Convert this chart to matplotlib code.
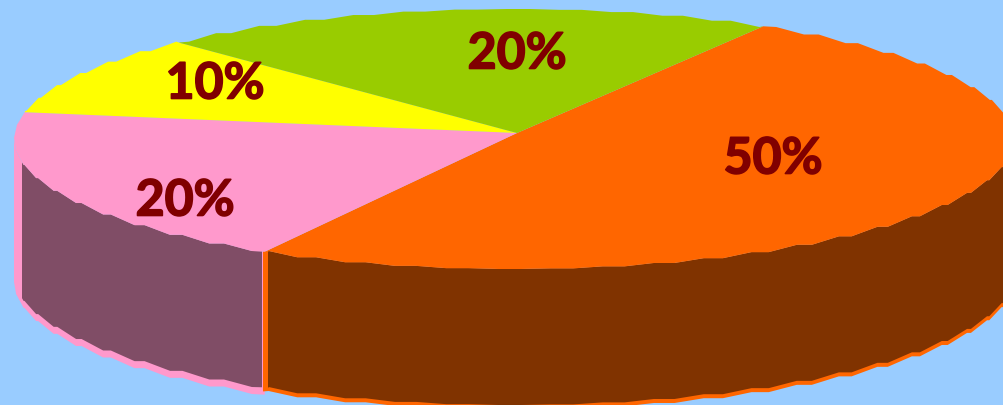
import numpy as np
import matplotlib
matplotlib.use('Agg')
import matplotlib.pyplot as plt
import matplotlib.patheffects as pe

# clockwise from the orange slice
labels = ['50%', '20%', '10%', '20%']
values = [50, 20, 10, 20]
colors = ['#FF6600', '#FF99CC', '#FFFF00', '#99CC00']
wall_colors = ['#803300', '#804D66']
label_x = [773, 185, 215, 517]
label_y = [160, 202, 85, 55]

# pie geometry in pixels
cx, cy, rx, ry = 514, 140, 500, 130
apex = (517, 134)
depth = 136
start = 60.1


def point(t):
    r = np.radians(t)
    return cx + rx * np.cos(r), cy - ry * np.sin(r)


def arc(t0, t1, step=6.0, flat=1.3):
    # rough outline of the ellipse from t0 down to t1, flat runs fade out at the sides
    xs, ys = [point(t0)[0]], [point(t0)[1]]
    for k in range(-8, 70):
        t = 59.5 - k * step
        y = point(t)[1]
        f = flat * abs(np.sin(np.radians(t)))
        for tt in (t + f, t - f):
            if t1 < tt < t0:
                xs.append(point(tt)[0])
                ys.append(y)
    xs.append(point(t1)[0])
    ys.append(point(t1)[1])
    return np.array(xs), np.array(ys)


def t_at_x(x):
    return -np.degrees(np.arccos((x - cx) / rx))


def wall(ax, t0, t1, color, shift):
    xs, ys = arc(t0, t1)
    ax.fill(np.r_[xs, xs[::-1]], np.r_[ys, ys[::-1] + shift], color=color, lw=0)


fig = plt.figure(figsize=(10.04, 4.06), dpi=100, facecolor='#99CCFF')
ax = fig.add_axes([0, 0, 1, 1])
ax.set_xlim(0, 1004)
ax.set_ylim(406, 0)
ax.axis('off')

angles = start - np.cumsum([0] + values) * 3.6

# side walls, light rim first and the dark face on top
wall(ax, angles[1], -180, colors[1], depth + 7)
wall(ax, t_at_x(262), t_at_x(22), wall_colors[1], depth)
wall(ax, 0, t_at_x(263), colors[0], depth + 4)
wall(ax, 0, t_at_x(268), wall_colors[0], depth)

# top slices
for i in range(len(values)):
    xs, ys = arc(angles[i], angles[i + 1])
    ax.fill(np.r_[apex[0], xs], np.r_[apex[1], ys], color=colors[i], lw=0)

for x, y, s in zip(label_x, label_y, labels):
    ax.text(x, y, s, color='#800000', fontsize=36, fontfamily='Lato', fontweight='bold',
            ha='center', va='center',
            path_effects=[pe.withStroke(linewidth=1.2, foreground='#800000')])

fig.savefig('out.png', dpi=100, facecolor=fig.get_facecolor())
